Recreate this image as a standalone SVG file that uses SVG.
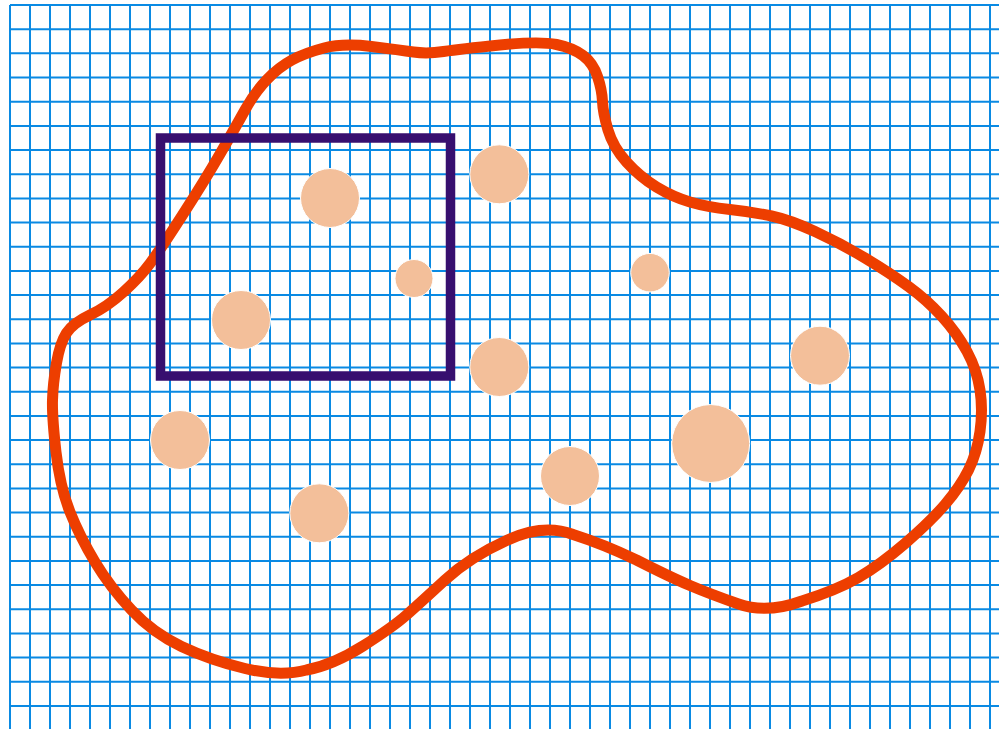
<svg xmlns="http://www.w3.org/2000/svg" width="999" height="729" viewBox="0 0 999 729">
<style>
.grid line{stroke:#0a8ae3;stroke-width:2}
.dot{fill:#f3bf9a;stroke:#ffffff;stroke-width:1}
</style>
<rect width="999" height="729" fill="#ffffff"/>
<g id="grid" class="grid">
<line x1="10" y1="5" x2="10" y2="729"/><line x1="30" y1="5" x2="30" y2="729"/><line x1="50" y1="5" x2="50" y2="729"/><line x1="70" y1="5" x2="70" y2="729"/><line x1="90" y1="5" x2="90" y2="729"/>
<line x1="110" y1="5" x2="110" y2="729"/><line x1="130" y1="5" x2="130" y2="729"/><line x1="150" y1="5" x2="150" y2="729"/><line x1="170" y1="5" x2="170" y2="729"/><line x1="190" y1="5" x2="190" y2="729"/>
<line x1="210" y1="5" x2="210" y2="729"/><line x1="230" y1="5" x2="230" y2="729"/><line x1="250" y1="5" x2="250" y2="729"/><line x1="270" y1="5" x2="270" y2="729"/><line x1="290" y1="5" x2="290" y2="729"/>
<line x1="310" y1="5" x2="310" y2="729"/><line x1="330" y1="5" x2="330" y2="729"/><line x1="350" y1="5" x2="350" y2="729"/><line x1="370" y1="5" x2="370" y2="729"/><line x1="390" y1="5" x2="390" y2="729"/>
<line x1="410" y1="5" x2="410" y2="729"/><line x1="430" y1="5" x2="430" y2="729"/><line x1="450" y1="5" x2="450" y2="729"/><line x1="470" y1="5" x2="470" y2="729"/><line x1="490" y1="5" x2="490" y2="729"/>
<line x1="510" y1="5" x2="510" y2="729"/><line x1="530" y1="5" x2="530" y2="729"/><line x1="550" y1="5" x2="550" y2="729"/><line x1="570" y1="5" x2="570" y2="729"/><line x1="590" y1="5" x2="590" y2="729"/>
<line x1="610" y1="5" x2="610" y2="729"/><line x1="630" y1="5" x2="630" y2="729"/><line x1="650" y1="5" x2="650" y2="729"/><line x1="670" y1="5" x2="670" y2="729"/><line x1="690" y1="5" x2="690" y2="729"/>
<line x1="710" y1="5" x2="710" y2="729"/><line x1="730" y1="5" x2="730" y2="729"/><line x1="750" y1="5" x2="750" y2="729"/><line x1="770" y1="5" x2="770" y2="729"/><line x1="790" y1="5" x2="790" y2="729"/>
<line x1="810" y1="5" x2="810" y2="729"/><line x1="830" y1="5" x2="830" y2="729"/><line x1="850" y1="5" x2="850" y2="729"/><line x1="870" y1="5" x2="870" y2="729"/><line x1="890" y1="5" x2="890" y2="729"/>
<line x1="910" y1="5" x2="910" y2="729"/><line x1="930" y1="5" x2="930" y2="729"/><line x1="950" y1="5" x2="950" y2="729"/><line x1="970" y1="5" x2="970" y2="729"/><line x1="990" y1="5" x2="990" y2="729"/>
<line x1="10" y1="5" x2="999" y2="5"/><line x1="10" y1="29.2" x2="999" y2="29.2"/><line x1="10" y1="53.3" x2="999" y2="53.3"/><line x1="10" y1="77.5" x2="999" y2="77.5"/><line x1="10" y1="101.7" x2="999" y2="101.7"/>
<line x1="10" y1="125.9" x2="999" y2="125.9"/><line x1="10" y1="150" x2="999" y2="150"/><line x1="10" y1="174.2" x2="999" y2="174.2"/><line x1="10" y1="198.4" x2="999" y2="198.4"/><line x1="10" y1="222.5" x2="999" y2="222.5"/>
<line x1="10" y1="246.7" x2="999" y2="246.7"/><line x1="10" y1="270.9" x2="999" y2="270.9"/><line x1="10" y1="295" x2="999" y2="295"/><line x1="10" y1="319.2" x2="999" y2="319.2"/><line x1="10" y1="343.4" x2="999" y2="343.4"/>
<line x1="10" y1="367.6" x2="999" y2="367.6"/><line x1="10" y1="391.7" x2="999" y2="391.7"/><line x1="10" y1="415.9" x2="999" y2="415.9"/><line x1="10" y1="440.1" x2="999" y2="440.1"/><line x1="10" y1="464.2" x2="999" y2="464.2"/>
<line x1="10" y1="488.4" x2="999" y2="488.4"/><line x1="10" y1="512.6" x2="999" y2="512.6"/><line x1="10" y1="536.7" x2="999" y2="536.7"/><line x1="10" y1="560.9" x2="999" y2="560.9"/><line x1="10" y1="585.1" x2="999" y2="585.1"/>
<line x1="10" y1="609.3" x2="999" y2="609.3"/><line x1="10" y1="633.4" x2="999" y2="633.4"/><line x1="10" y1="657.6" x2="999" y2="657.6"/><line x1="10" y1="681.8" x2="999" y2="681.8"/><line x1="10" y1="705.9" x2="999" y2="705.9"/>
</g>
<g id="region">
<path fill="none" stroke="#ed3e00" stroke-width="11" stroke-linejoin="round" d="M371.5,46.5 Q400,50 413.5,52 Q427,54 443.5,51.5 Q460,49 500,45 Q540,41 556.5,44.5 Q573,48 583,55.5 Q593,63 597.5,76.5 Q602,90 602.5,101.5 Q603,113 608,130 Q613,147 626.5,162 Q640,177 656.5,187 Q673,197 690,202 Q707,207 730,209.5 Q753,212 771.5,216 Q790,220 815,231.5 Q840,243 865,258 Q890,273 908.5,286.5 Q927,300 942,316.5 Q957,333 967,351.5 Q977,370 980,390 Q983,410 980,431.5 Q977,453 968.5,470 Q960,487 945,504.5 Q930,522 905,543.5 Q880,565 858.5,577.5 Q837,590 802,601 Q767,614 738.5,604 Q710,594 690,585.5 Q670,577 636.5,560 Q603,544 573,534.5 Q543,523 506.5,540.5 Q470,557 445,580 Q420,603 406.5,615 Q393,627 363,646 Q333,665 306.5,670 Q280,677 245,668.5 Q210,660 181.5,646.5 Q153,633 131.5,610 Q110,587 95,562 Q80,537 70,512 Q60,487 56,452 Q52,417 52.5,400 Q53,383 56.5,363 Q60,343 66.5,333 Q73,323 90,315 Q107,307 123.5,292 Q140,277 150,263.5 Q160,250 182.5,215 Q205,180 220,154 Q235,128 245,110 Q255,92 267,79.5 Q279,67 292,60 Q305,53 324,48 Q343,43 371.5,46.5 Z"/>
</g>
<g id="frame">
<rect x="160.5" y="138" width="290" height="238" fill="none" stroke="#370f6f" stroke-width="9.5"/>
</g>
<g id="dots">
<circle id="dot1" class="dot" cx="330" cy="198" r="29.5"/>
<circle id="dot2" class="dot" cx="499.3" cy="174.3" r="29.5"/>
<circle id="dot3" class="dot" cx="414" cy="278.5" r="19"/>
<circle id="dot4" class="dot" cx="241" cy="320" r="29.5"/>
<circle id="dot5" class="dot" cx="650" cy="272.7" r="19.3"/>
<circle id="dot6" class="dot" cx="820" cy="355.7" r="29.5"/>
<circle id="dot7" class="dot" cx="499.3" cy="367" r="29.5"/>
<circle id="dot8" class="dot" cx="180" cy="440" r="29.5"/>
<circle id="dot9" class="dot" cx="710.7" cy="443.5" r="39"/>
<circle id="dot10" class="dot" cx="570" cy="476" r="29.5"/>
<circle id="dot11" class="dot" cx="319.3" cy="513.3" r="29.5"/>
</g>
</svg>
